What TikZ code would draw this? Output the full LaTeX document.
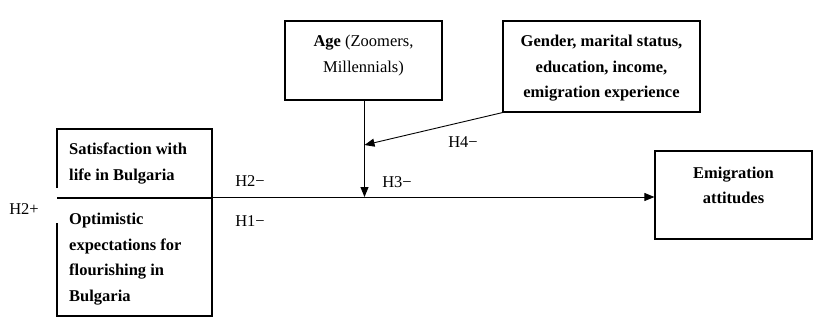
\documentclass[tikz,border=0pt]{standalone}
\usepackage{fontspec}
\setmainfont{Liberation Serif}
\usetikzlibrary{arrows.meta}
\begin{document}
\begin{tikzpicture}[x=1pt,y=-1pt,
  box/.style={draw,line width=1.2pt,inner sep=0pt},
  lbl/.style={font=\fontsize{16.5}{18}\selectfont,inner sep=0pt},
  txt/.style={font=\fontsize{16.5}{25.5}\selectfont\bfseries,align=center,inner sep=0pt},
  ltxt/.style={font=\fontsize{16.5}{25.5}\selectfont\bfseries,align=left,anchor=west,inner sep=0pt},
  arr/.style={-{Triangle[length=10pt,width=8pt]},line width=0.9pt}]
\useasboundingbox (0,0) rectangle (833,335);
% left boxes
\draw[line width=1.2pt] (57,188) -- (57,129) -- (212,129) -- (212,316) -- (57,316) -- (57,223);
\draw[line width=2pt] (57,198) -- (212,198);
\node[ltxt] (sat) at (69,163.5) {Satisfaction with\\life in Bulgaria};
\node[ltxt] (opt) at (69,259) {Optimistic\\expectations for\\flourishing in\\Bulgaria};
\coordinate (lout) at (212,197);
% top boxes
\node[box,minimum width=157pt,minimum height=79pt] (age) at (363.5,60.5) {};
\node[txt] (agetxt) at (363.5,55.5) {\textbf{Age} \mdseries(Zoomers,\\\mdseries Millennials)};
\node[box,minimum width=197pt,minimum height=91pt] (gen) at (601.5,66.5) {};
\node[txt] (gentxt) at (601.5,68.5) {Gender, marital status,\\education, income,\\emigration experience};
\node[box,minimum width=157pt,minimum height=88pt] (emi) at (733.5,195) {};
\node[txt] (emitxt) at (733.5,185.5) {Emigration\\attitudes};
% connectors
\coordinate (mid) at (364.5,197);
\coordinate (h4end) at (364.5,145);
\draw[arr] (lout) -- (emi.west |- lout);
\draw[arr] (age.south -| mid) -- (mid);
\draw[arr] (gen.south west) -- (h4end);
% labels
\node[lbl] (h2m) at (250,181) {H2−};
\node[lbl] (h1m) at (250,221) {H1−};
\node[lbl] (h3m) at (397,182) {H3−};
\node[lbl] (h4m) at (463,142) {H4−};
\node[lbl] (h2p) at (24,209) {H2+};
\end{tikzpicture}
\end{document}
